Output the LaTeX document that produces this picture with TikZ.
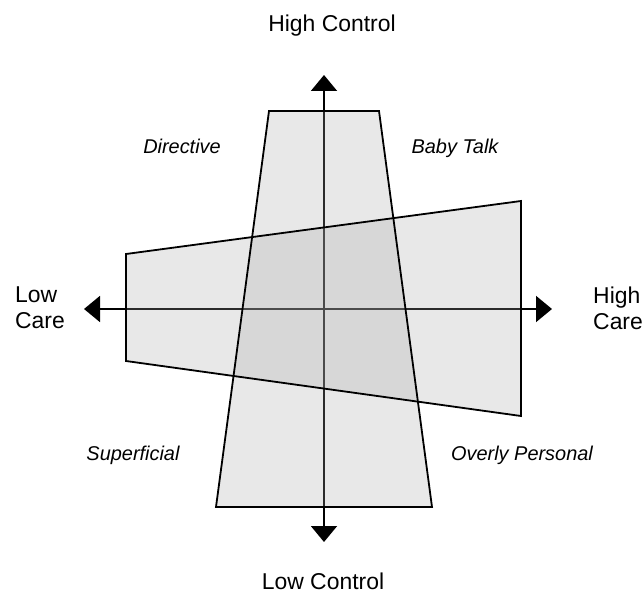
\documentclass[tikz,border=0pt]{standalone}
\usepackage{fontspec}
\setmainfont{Liberation Sans}
\usetikzlibrary{arrows.meta}
\definecolor{shade}{gray}{0.655}
\tikzset{
  axisline/.style={line width=1.8bp, {Triangle[width=26bp,length=16bp]}-{Triangle[width=26bp,length=16bp]}},
  zonefill/.style={fill=shade, fill opacity=0.26, draw=none},
  zoneline/.style={draw=black, line width=1.8bp, line join=miter},
  mainlabel/.style={inner sep=0pt, font=\fontsize{23}{26}\selectfont},
  quadlabel/.style={inner sep=0pt, anchor=base, font=\fontsize{20}{24}\selectfont\itshape},
}
\begin{document}
\begin{tikzpicture}[x=1bp,y=-1bp]
\useasboundingbox (0,0) rectangle (644,594);
% axis ends
\coordinate (vT) at (324,75);
\coordinate (vB) at (324,542);
\coordinate (hL) at (84,309);
\coordinate (hR) at (552,309);
% vertical trapezoid corners
\coordinate (v1) at (269,111);
\coordinate (v2) at (379,111);
\coordinate (v3) at (432,507);
\coordinate (v4) at (216,507);
% horizontal trapezoid corners
\coordinate (h1) at (126,254);
\coordinate (h2) at (521,201);
\coordinate (h3) at (521,416);
\coordinate (h4) at (126,361);
% axes
\draw[axisline] (vB) -- (vT);
\draw[axisline] (hL) -- (hR);
% fills
\path[zonefill] (v1) -- (v2) -- (v3) -- (v4) -- cycle;
\path[zonefill] (h1) -- (h2) -- (h3) -- (h4) -- cycle;
% outlines
\draw[zoneline] (v1) -- (v2) -- (v3) -- (v4) -- cycle;
\draw[zoneline] (h1) -- (h2) -- (h3) -- (h4) -- cycle;
% labels
\node[mainlabel, anchor=base] (hc) at (332,31.7) {High Control};
\node[mainlabel, anchor=base] (lc) at (323,589.5) {Low Control};
\node[mainlabel, anchor=west, align=left] (lcare) at (15,308) {Low\\Care};
\node[mainlabel, anchor=west, align=left] (hcare) at (593,308) {High\\Care};
\node[quadlabel] (dir) at (182,154) {Directive};
\node[quadlabel] (baby) at (455,154) {Baby Talk};
\node[quadlabel] (sup) at (133,460) {Superficial};
\node[quadlabel] (over) at (522,460) {Overly Personal};
\end{tikzpicture}
\end{document}
